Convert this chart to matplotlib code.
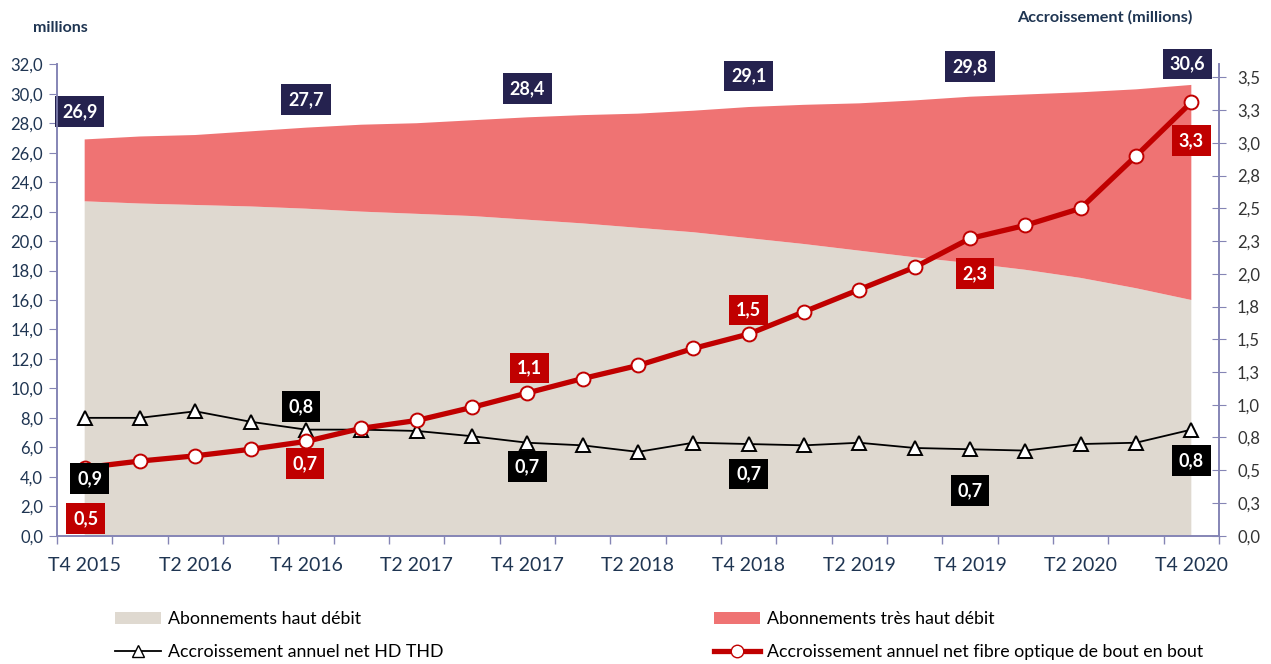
import numpy as np
import matplotlib
matplotlib.use("Agg")
import matplotlib.pyplot as plt
from matplotlib.lines import Line2D
from matplotlib.patches import Patch
from matplotlib.ticker import FixedLocator, FuncFormatter

plt.rcParams['font.family'] = ['Lato', 'DejaVu Sans']

# Data (millions)
quarters = ["T4 2015", "T1 2016", "T2 2016", "T3 2016", "T4 2016", "T1 2017", "T2 2017",
            "T3 2017", "T4 2017", "T1 2018", "T2 2018", "T3 2018", "T4 2018", "T1 2019",
            "T2 2019", "T3 2019", "T4 2019", "T1 2020", "T2 2020", "T3 2020", "T4 2020"]
hd = [22.7, 22.55, 22.45, 22.35, 22.2, 22.0, 21.85, 21.7, 21.45, 21.2, 20.9,
      20.6, 20.2, 19.8, 19.35, 18.9, 18.5, 18.05, 17.5, 16.8, 16.0]
thd = [4.2, 4.55, 4.75, 5.1, 5.5, 5.9, 6.15, 6.5, 6.95, 7.35, 7.75,
       8.25, 8.9, 9.45, 10.0, 10.65, 11.3, 11.9, 12.6, 13.5, 14.6]
growth_hd_thd = [0.90, 0.90, 0.95, 0.87, 0.81, 0.81, 0.80, 0.76, 0.71, 0.69, 0.64,
                 0.71, 0.70, 0.69, 0.71, 0.67, 0.66, 0.65, 0.70, 0.71, 0.81]
growth_fibre = [0.52, 0.57, 0.61, 0.66, 0.72, 0.82, 0.88, 0.98, 1.09, 1.20, 1.30,
                1.43, 1.54, 1.71, 1.88, 2.05, 2.27, 2.37, 2.50, 2.90, 3.31]
label_idx = [0, 4, 8, 12, 16, 20]

# colours
beige = "#dfd9d0"
pink = "#ef7373"
dark_red = "#c00000"
navy = "#25224f"
axis_col = "#8585b5"
text_col = "#1f3552"

x = np.arange(len(quarters))
total = np.array(hd) + np.array(thd)


def fr(v):
    return f"{v + 1e-9:.1f}".replace(".", ",")


fig = plt.figure(figsize=(12.71, 6.64), dpi=100)
ax = fig.add_axes([57 / 1271, 128.3 / 664, 1162 / 1271, 471.4 / 664])
ax.stackplot(x, hd, thd, colors=[beige, pink], linewidth=0)
ax.set_xlim(-0.5, len(quarters) - 0.5)
ax.set_ylim(0, 32)
ax.set_yticks(np.arange(0, 32.1, 2))
ax.yaxis.set_major_formatter(FuncFormatter(lambda v, p: fr(v)))

ax2 = ax.twinx()
ax2.set_ylim(0, 3.6)
ax2.yaxis.set_major_locator(FixedLocator(np.arange(0, 3.51, 0.25)))
ax2.yaxis.set_major_formatter(FuncFormatter(lambda v, p: fr(v)))

ax2.plot(x, growth_hd_thd, color="black", lw=1.3, marker="^", ms=10,
         mfc="white", mec="black", mew=1.4, zorder=3)
ax2.plot(x, growth_fibre, color=dark_red, lw=3.8, marker="o", ms=10,
         mfc="white", mec=dark_red, mew=1.4, zorder=4)

# x ticks: labels every 2 quarters, tick marks at category boundaries
ax.set_xticks(x[::2])
ax.set_xticklabels(quarters[::2])
ax.set_xticks(np.arange(-0.5, len(quarters), 1), minor=True)
ax.tick_params(axis="x", which="major", length=0, pad=15, labelsize=14, labelcolor=text_col)
ax.tick_params(axis="x", which="minor", length=6, color=axis_col, width=1)
ax.tick_params(axis="y", length=6, color=axis_col, labelsize=12, labelcolor=text_col, pad=4)
ax2.tick_params(axis="y", direction="inout", length=10, color=axis_col, labelsize=12,
                labelcolor="#333333", pad=8)

for a in (ax, ax2):
    a.spines["top"].set_visible(False)
    for s in ("left", "right", "bottom"):
        a.spines[s].set_color(axis_col)
        a.spines[s].set_linewidth(1.2)

# data labels
box = dict(boxstyle="square,pad=0.38", lw=0)
tot_off = [(-5, 28), (0, 28), (0, 29), (0, 31), (0, 30), (-4, 21)]
for i, off in zip(label_idx, tot_off):
    ax.annotate(fr(total[i]), (x[i], total[i]), xytext=off, textcoords="offset pixels",
                ha="center", va="center", color="white", fontsize=13, fontweight="bold",
                bbox=dict(box, fc=navy), zorder=6)

fib_off = [(1, -51), (-1, -22), (2, 25), (0, 24), (5, -35), (0, -38)]
for i, off in zip(label_idx, fib_off):
    ax2.annotate(fr(growth_fibre[i]), (x[i], growth_fibre[i]), xytext=off,
                 textcoords="offset pixels", ha="center", va="center", color="white",
                 fontsize=13, fontweight="bold", bbox=dict(box, fc=dark_red), zorder=6)

hd_off = [(5, -61), (-5, 23), (0, -24), (0, -30), (0, -41), (0, -31)]
for i, off in zip(label_idx, hd_off):
    ax2.annotate(fr(growth_hd_thd[i]), (x[i], growth_hd_thd[i]), xytext=off,
                 textcoords="offset pixels", ha="center", va="center", color="white",
                 fontsize=13, fontweight="bold", bbox=dict(box, fc="black"), zorder=6)

fig.text(33 / 1271, 1 - 28 / 664, "millions", ha="left", va="center",
         fontsize=11.5, fontweight="bold", color=text_col)
fig.text(1105 / 1271, 1 - 17 / 664, "Accroissement (millions)", ha="center", va="center",
         fontsize=11.7, fontweight="bold", color=text_col)

# legend (two columns, built separately for spacing)
leg_kw = dict(loc="upper left", frameon=False, fontsize=12.8, handlelength=2.6,
              handletextpad=0.4, labelspacing=0.95, borderpad=0, borderaxespad=0)
h_left = [Patch(color=beige, lw=0),
          Line2D([], [], color="black", lw=1.3, marker="^", ms=9, mfc="white", mec="black")]
h_right = [Patch(color=pink, lw=0),
           Line2D([], [], color=dark_red, lw=3.8, marker="o", ms=9, mfc="white", mec=dark_red)]
fig.legend(h_left, ["Abonnements haut débit", "Accroissement annuel net HD THD"],
           bbox_to_anchor=(115 / 1271, 1 - 611 / 664), **leg_kw)
fig.legend(h_right, ["Abonnements très haut débit",
                     "Accroissement annuel net fibre optique de bout en bout"],
           bbox_to_anchor=(714 / 1271, 1 - 611 / 664), **leg_kw)

fig.savefig("out.png", dpi=100)
